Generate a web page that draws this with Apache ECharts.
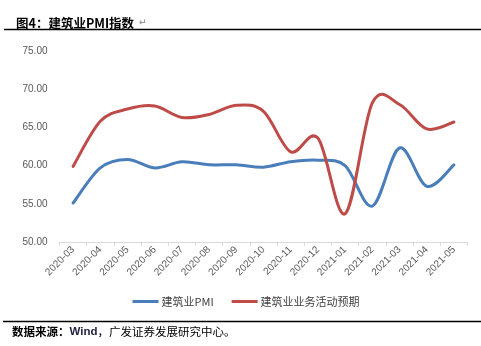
<!DOCTYPE html>
<html><head><meta charset="utf-8">
<script src="https://cdn.jsdelivr.net/npm/echarts@6/dist/echarts.min.js"></script>
<style>html,body{margin:0;padding:0;background:#fff}#c{width:481px;height:346px}</style>
</head><body><div id="c"></div>
<script>
const categories = ['2020-03','2020-04','2020-05','2020-06','2020-07','2020-08','2020-09','2020-10','2020-11','2020-12','2021-01','2021-02','2021-03','2021-04','2021-05'];
const pmi = [55.1, 59.7, 60.8, 59.7, 60.5, 60.1, 60.1, 59.8, 60.5, 60.7, 60.0, 54.7, 62.3, 57.3, 60.1];
const expect = [59.9, 65.8, 67.4, 67.8, 66.3, 66.7, 67.9, 67.1, 61.8, 63.6, 53.7, 68.2, 68.0, 64.8, 65.7];
const seriesNames = ['建筑业PMI', '建筑业业务活动预期'];
const yTicks = {min: 50, max: 75, interval: 5};
const colors = ['#4a7ebb', '#be4b48'];

// Excel-like smoothed line (Catmull-Rom through the data points), positioned by the chart's axes
function smoothRender(values, color) {
  return function (params, api) {
    if (params.dataIndex !== 0) return null;
    const pts = values.map((v, i) => api.coord([i, v]));
    const n = pts.length;
    let d = 'M' + pts[0][0] + ' ' + pts[0][1];
    for (let i = 0; i < n - 1; i++) {
      const p0 = pts[Math.max(i - 1, 0)], p1 = pts[i], p2 = pts[i + 1], p3 = pts[Math.min(i + 2, n - 1)];
      const c1x = p1[0] + (p2[0] - p0[0]) / 6, c1y = p1[1] + (p2[1] - p0[1]) / 6;
      const c2x = p2[0] - (p3[0] - p1[0]) / 6, c2y = p2[1] - (p3[1] - p1[1]) / 6;
      d += ' C' + c1x + ' ' + c1y + ' ' + c2x + ' ' + c2y + ' ' + p2[0] + ' ' + p2[1];
    }
    return {type: 'path', shape: {pathData: d}, style: {fill: null, stroke: color, lineWidth: 3, lineJoin: 'round', lineCap: 'round'}};
  };
}

const chart = echarts.init(document.getElementById('c'), null, {renderer: 'canvas'});
chart.setOption({
  animation: false,
  backgroundColor: '#fff',
  title: {
    text: '{b|图4：建筑业PMI指数} {m|↵}',
    left: 11, top: 9,
    textStyle: {
      rich: {
        b: {fontSize: 12.5, fontWeight: 'bold', color: '#000', fontFamily: 'Noto Sans CJK SC'},
        m: {fontSize: 9, color: '#999', fontFamily: 'DejaVu Sans'}
      }
    }
  },
  graphic: [
    {type: 'line', shape: {x1: 4, y1: 29.5, x2: 481, y2: 29.5}, style: {stroke: '#000', lineWidth: 1.5}},
    {type: 'line', shape: {x1: 3, y1: 321.5, x2: 481, y2: 321.5}, style: {stroke: '#000', lineWidth: 1.5}},
    {type: 'text', left: 12, top: 326, style: {
      text: '{b|数据来源：}{w|Wind}{n|，广发证券发展研究中心。}',
      rich: {
        b: {fontSize: 11.5, fontWeight: 'bold', fill: '#000', fontFamily: 'Noto Sans CJK SC'},
        w: {fontSize: 11.5, fontWeight: 'bold', fill: '#1f1f3f', fontFamily: 'Liberation Sans'},
        n: {fontSize: 11.5, fill: '#000', fontFamily: 'Noto Sans CJK SC'}
      }
    }}
  ],
  legend: {
    left: 127.5, top: 291,
    itemWidth: 26, itemHeight: 3, itemGap: 18,
    icon: 'rect',
    textStyle: {fontSize: 11, color: '#404040', fontFamily: 'Noto Sans CJK SC', padding: [0,0,0,-2]},
    data: seriesNames
  },
  grid: {left: 59.5, right: 13.5, top: 51, bottom: 104, containLabel: false},
  xAxis: {
    type: 'category',
    data: categories,
    boundaryGap: true,
    axisLine: {lineStyle: {color: '#d9d9d9', width: 1}},
    axisTick: {show: true, length: 4, lineStyle: {color: '#d9d9d9'}},
    axisLabel: {rotate: 45, fontSize: 10, color: '#595959', fontFamily: 'Liberation Sans', margin: 6, interval: 0}
  },
  yAxis: {
    type: 'value',
    min: yTicks.min, max: yTicks.max, interval: yTicks.interval,
    axisLine: {show: false},
    axisTick: {show: false},
    splitLine: {show: false},
    axisLabel: {fontSize: 10, color: '#595959', fontFamily: 'Liberation Sans', margin: 12,
      formatter: v => v.toFixed(2)}
  },
  series: [
    {name: seriesNames[0], type: 'custom', data: pmi.map((v, i) => [i, v]), encode: {x: 0, y: 1},
     renderItem: smoothRender(pmi, colors[0]), itemStyle: {color: colors[0]}, clip: false},
    {name: seriesNames[1], type: 'custom', data: expect.map((v, i) => [i, v]), encode: {x: 0, y: 1},
     renderItem: smoothRender(expect, colors[1]), itemStyle: {color: colors[1]}, clip: false}
  ]
});
</script></body></html>
